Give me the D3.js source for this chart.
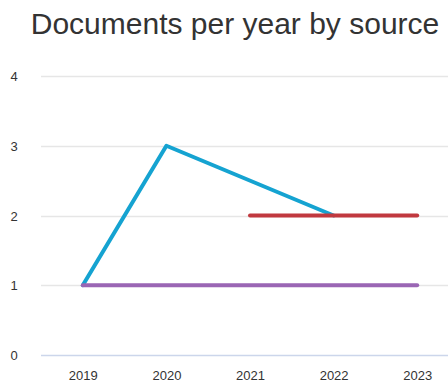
<!DOCTYPE html>
<html>
<head>
<meta charset="utf-8">
<script src="https://cdn.jsdelivr.net/npm/d3@7"></script>
<style>
  body { margin: 0; background: #fff; }
  svg { display: block; font-family: "Liberation Sans", Arial, sans-serif; }
</style>
</head>
<body>
<div id="chart"></div>
<script>
const years = ["2019", "2020", "2021", "2022", "2023"];
const yTicks = [0, 1, 2, 3, 4];
// one value per year, null = no documents that year
const seriesBlue = [1, 3, null, 2, null];
const seriesRed = [null, null, 2, 2, 2];
const seriesPurple = [1, 1, 1, 1, 1];

const series = [
  { name: "blue", values: seriesBlue, color: "#15a3d1" },
  { name: "red", values: seriesRed, color: "#c1393f" },
  { name: "purple", values: seriesPurple, color: "#9a66b4" }
];

const width = 448;
const height = 385;
const margin = { top: 76, right: -11, bottom: 30, left: 41 };

const svg = d3.select("#chart")
  .append("svg")
  .attr("width", width)
  .attr("height", height);

svg.append("text")
  .attr("x", 235)
  .attr("y", 34)
  .attr("text-anchor", "middle")
  .attr("font-size", 30)
  .attr("fill", "#333")
  .text("Documents per year by source");

const x = d3.scalePoint()
  .domain(years)
  .range([margin.left, width - margin.right])
  .padding(0.5);

const y = d3.scaleLinear()
  .domain([0, 4])
  .range([height - margin.bottom, margin.top]);

// grid
svg.append("g")
  .selectAll("line")
  .data(yTicks.filter(d => d > 0))
  .join("line")
  .attr("x1", margin.left)
  .attr("x2", width)
  .attr("y1", d => Math.round(y(d)) + 0.5)
  .attr("y2", d => Math.round(y(d)) + 0.5)
  .attr("stroke", "#e6e6e6")
  .attr("stroke-width", 1.5);

// y labels
svg.append("g")
  .selectAll("text")
  .data(yTicks)
  .join("text")
  .attr("x", 14)
  .attr("y", d => y(d) + 5)
  .attr("text-anchor", "middle")
  .attr("font-size", 13)
  .attr("fill", "#333")
  .text(d => d);

// x axis
const xAxis = svg.append("g")
  .attr("transform", `translate(0,${Math.round(y(0)) + 0.5})`)
  .call(d3.axisBottom(x).tickSize(0).tickPadding(15));
xAxis.select(".domain")
  .attr("d", `M${margin.left},0H${width}`)
  .attr("stroke", "#ccd6eb")
  .attr("stroke-width", 1.5);
xAxis.selectAll("text")
  .attr("font-size", 13)
  .attr("fill", "#333")
  .attr("font-family", "Liberation Sans, Arial, sans-serif");

const line = d3.line()
  .x(d => x(d.year))
  .y(d => y(d.value));

svg.append("g")
  .selectAll("path")
  .data(series)
  .join("path")
  .attr("fill", "none")
  .attr("stroke", d => d.color)
  .attr("stroke-width", 4)
  .attr("stroke-linejoin", "round")
  .attr("stroke-linecap", "round")
  .attr("d", d => line(
    d.values.map((v, i) => ({ year: years[i], value: v }))
      .filter(p => p.value !== null)
  ));
</script>
</body>
</html>
